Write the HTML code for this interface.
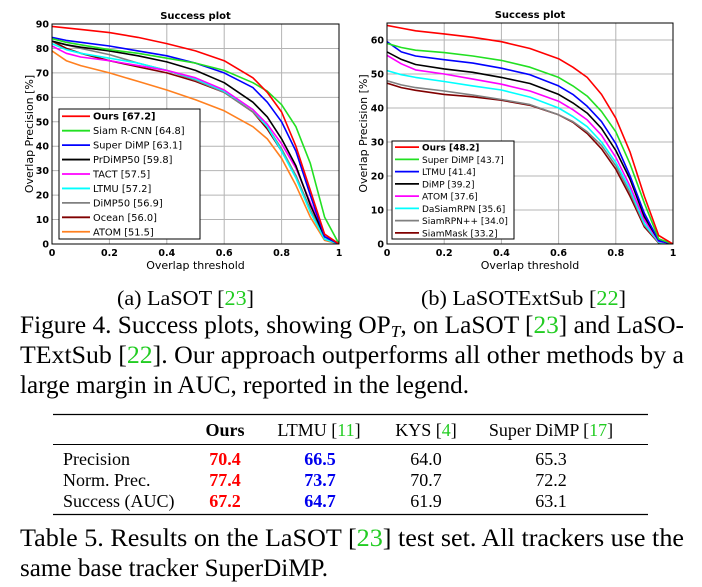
<!DOCTYPE html>
<html><head><meta charset="utf-8"><style>
html,body{margin:0;padding:0;background:#fff;width:702px;height:587px;overflow:hidden}
svg{display:block}
.pl{font-family:"DejaVu Sans","Liberation Sans",sans-serif}
.tm{font-family:"Liberation Serif",serif}
</style></head><body>
<svg id="fig" width="702" height="587" viewBox="0 0 702 587">
<g id="left"></g>
<g id="right"></g>
<g class="tm">
<text x="117" y="305" font-size="21" textLength="137" lengthAdjust="spacingAndGlyphs">(a) LaSOT [<tspan fill="#22cc22">23</tspan>]</text>
<text x="421" y="305" font-size="21" textLength="205" lengthAdjust="spacingAndGlyphs">(b) LaSOTExtSub [<tspan fill="#22cc22">22</tspan>]</text>
<text x="20" y="333" font-size="25" textLength="664" lengthAdjust="spacingAndGlyphs">Figure 4. Success plots, showing OP<tspan font-style="italic" font-size="17" dy="4">T</tspan><tspan dy="-4">, on LaSOT [</tspan><tspan fill="#22cc22">23</tspan>] and LaSO-</text>
<text x="20" y="363" font-size="25" textLength="664" lengthAdjust="spacingAndGlyphs">TExtSub [<tspan fill="#22cc22">22</tspan>].  Our approach outperforms all other methods by a</text>
<text x="20" y="393" font-size="25" textLength="449" lengthAdjust="spacingAndGlyphs">large margin in AUC, reported in the legend.</text>
</g>
<g class="tm">
<line x1="53" y1="414.5" x2="648" y2="414.5" stroke="#000" stroke-width="1.2"/>
<line x1="53" y1="444.5" x2="648" y2="444.5" stroke="#000" stroke-width="1"/>
<line x1="53" y1="514.5" x2="648" y2="514.5" stroke="#000" stroke-width="1.2"/>
<g font-size="18" text-anchor="middle">
<text x="225" y="436" font-weight="bold">Ours</text>
<text x="319" y="436">LTMU [<tspan fill="#22cc22">11</tspan>]</text>
<text x="426" y="436">KYS [<tspan fill="#22cc22">4</tspan>]</text>
<text x="551" y="436">Super DiMP [<tspan fill="#22cc22">17</tspan>]</text>
</g>
<g font-size="18">
<text x="63" y="465">Precision</text>
<text x="63" y="486">Norm. Prec.</text>
<text x="63" y="507">Success (AUC)</text>
</g>
<g font-size="18" text-anchor="middle">
<text x="225" y="465" fill="#ff0000" font-weight="bold">70.4</text><text x="320" y="465" fill="#0000ee" font-weight="bold">66.5</text><text x="426" y="465">64.0</text><text x="551" y="465">65.3</text>
<text x="225" y="486" fill="#ff0000" font-weight="bold">77.4</text><text x="320" y="486" fill="#0000ee" font-weight="bold">73.7</text><text x="426" y="486">70.7</text><text x="551" y="486">72.2</text>
<text x="225" y="507" fill="#ff0000" font-weight="bold">67.2</text><text x="320" y="507" fill="#0000ee" font-weight="bold">64.7</text><text x="426" y="507">61.9</text><text x="551" y="507">63.1</text>
</g>
<text x="20" y="546" font-size="25" textLength="664" lengthAdjust="spacingAndGlyphs">Table 5. Results on the LaSOT [<tspan fill="#22cc22">23</tspan>] test set.  All trackers use the</text>
<text x="20" y="576" font-size="25" textLength="308" lengthAdjust="spacingAndGlyphs">same base tracker SuperDiMP.</text>
</g>
</svg>
<script>
const leftThresholds=[0,.05,.1,.2,.3,.4,.5,.6,.7,.75,.8,.85,.9,.95,1];
const leftNames=["Ours [67.2]","Siam R-CNN [64.8]","Super DiMP [63.1]","PrDiMP50 [59.8]","TACT [57.5]","LTMU [57.2]","DiMP50 [56.9]","Ocean [56.0]","ATOM [51.5]"];
const leftOurs=[89,88.4,87.8,86.5,84.5,82,79,75,68,62,54,40,22,4,0];
const leftSiamRCNN=[84,82.5,81.5,79.5,78,76,74,71,66,62.5,57,48,33,11,0];
const leftSuperDiMP=[84.5,83.3,82.5,81,79,77,74,70,64,58,50,38,20,3,0];
const leftPrDiMP=[83,81.5,80.5,79,77,74.5,71,66,58,52,43,32,16,3,0];
const leftTACT=[81,78,76.5,75,73,71,68,63,55,49,41,31,17,4,0];
const leftLTMU=[82,79.5,78,76,74,71,67.5,62.5,55,48,38,27,13,2,0];
const leftDiMP50=[83,81.5,80,77.5,74,71,67,62,54,48,39,28,14,2,0];
const leftOcean=[83,80,78,75,72.5,70,66.5,62,54,47,38,28,14,2,0];
const leftATOM=[79,75,73,70,66.5,63,59,54.5,48,43,35,24,11,1.5,0];
const leftYTicks=[0,10,20,30,40,50,60,70,80,90];

const rightThresholds=[0,.05,.1,.2,.3,.4,.5,.6,.65,.7,.75,.8,.85,.9,.95,1];
const rightNames=["Ours [48.2]","Super DiMP [43.7]","LTMU [41.4]","DiMP [39.2]","ATOM [37.6]","DaSiamRPN [35.6]","SiamRPN++ [34.0]","SiamMask [33.2]"];
const rightOurs=[64.3,63.5,62.7,61.8,60.8,59.5,57.5,54.5,52,49,44,37,27,14,2.5,0];
const rightSuperDiMP=[59,57.8,57,56.3,55.3,54,52,49,46.5,43.5,39,33,23.5,12,1.5,0];
const rightLTMU=[59.5,56.5,55.3,54.2,53.2,51.7,49.8,46.5,44,40.5,36,29.5,20,9,1,0];
const rightDiMP=[56.5,54.3,52.8,51.5,50.5,49,47.2,44,41.5,38.5,34,27.5,19,8,1,0];
const rightATOM=[55.5,53,51.2,50,48.5,47,45,42,39.5,36.5,32,25.5,17,7,0.8,0];
const rightDaSiam=[51,49.8,49,47.8,46.5,45.3,43.2,40,37.5,34.5,30,24,16,6,0.5,0];
const rightSiamRPN=[48,46.8,46,45,43.8,42.5,41,38,36,33,29,23,15,5.5,0.5,0];
const rightSiamMask=[47.3,46,45.2,44,43.3,42.3,40.8,38,35.8,32.5,28,22,14,5,0.3,0];
const rightYTicks=[0,10,20,30,40,50,60];
const xTicks=[0,0.2,0.4,0.6,0.8,1];
const xTickLabels=["0","0.2","0.4","0.6","0.8","1"];

const NS="http://www.w3.org/2000/svg";
function mk(p,tag,attrs){const e=document.createElementNS(NS,tag);for(const k in attrs)e.setAttribute(k,attrs[k]);p.appendChild(e);return e;}

function plot(g,cfg){
  g.setAttribute('class','pl');
  const {x0,x1,y0,y1,ymax}=cfg;
  const sx=t=>x0+t*(x1-x0), sy=v=>y1-v/ymax*(y1-y0);
  const grid=mk(g,'g',{});
  
  
  xTicks.forEach((t,i)=>{
    if(t>0&&t<1)mk(grid,'line',{x1:sx(t),x2:sx(t),y1:y0,y2:y1,stroke:'#b4b4b4','stroke-width':1});
    const tl=mk(g,'text',{x:sx(t),y:y1+12,'font-size':9.5,'text-anchor':'middle','font-weight':'bold'});
    tl.textContent=xTickLabels[i];
    
    
  });
  cfg.yticks.forEach(v=>{
    if(v>0&&v<ymax)mk(grid,'line',{x1:x0,x2:x1,y1:sy(v),y2:sy(v),stroke:'#b4b4b4','stroke-width':1});
    const tl=mk(g,'text',{x:x0-3,y:sy(v)+3.5,'font-size':9.5,'text-anchor':'end','font-weight':'bold'});
    tl.textContent=String(v);
    
    
  });
  const cp='clip'+cfg.id;
  const cl=mk(mk(g,'defs',{}),'clipPath',{id:cp});
  mk(cl,'rect',{x:x0,y:y0,width:x1-x0,height:y1-y0});
  const lines=mk(g,'g',{'clip-path':'url(#'+cp+')'});
  for(let i=cfg.series.length-1;i>=0;i--){
    const s=cfg.series[i];
    const d=s.vals.map((v,j)=>(j?'L':'M')+sx(cfg.t[j]).toFixed(1)+','+sy(v).toFixed(1)).join('');
    const p=mk(lines,'path',{d:d,fill:'none',stroke:s.c,'stroke-width':1.6,'stroke-linejoin':'round'});
    
    
  }
  const fr=mk(g,'rect',{x:x0,y:y0,width:x1-x0,height:y1-y0,fill:'none',stroke:'#000','stroke-width':1});
  
  
  const ti=mk(g,'text',{x:(x0+x1)/2,y:y0-5,'font-size':10,'font-weight':'bold','text-anchor':'middle'});
  ti.textContent='Success plot';
  
  
  const xl=mk(g,'text',{x:(x0+x1)/2,y:y1+25,'font-size':11,'text-anchor':'middle'});
  xl.textContent='Overlap threshold';
  
  
  const yl=mk(g,'text',{x:0,y:0,'font-size':11,'text-anchor':'middle',transform:`translate(${cfg.ylx},${(y0+y1)/2}) rotate(-90)`});
  yl.textContent='Overlap Precision [%]';
  
  
  const L=cfg.leg;
  const lg=mk(g,'g',{});
  
  
  mk(lg,'rect',{x:L.x,y:L.y,width:L.w,height:L.h,fill:'#fff',stroke:'#000','stroke-width':1});
  const rh=L.h/cfg.series.length;
  cfg.series.forEach((s,i)=>{
    const cy=L.y+rh*(i+0.5);
    const e=mk(lg,'g',{});
    
    
    mk(e,'line',{x1:L.x+3,x2:L.x+3+L.sl,y1:cy,y2:cy,stroke:s.c,'stroke-width':1.8});
    const t=mk(e,'text',{x:L.x+L.sl+6,y:cy+3.5,'font-size':L.fs,'font-weight':i===0?'bold':'normal'});
    t.textContent=cfg.names[i];
  });
}
plot(document.getElementById('left'),{id:'L',x0:52,x1:339,y0:24,y1:244,ymax:90,yticks:leftYTicks,ylx:33,t:leftThresholds,names:leftNames,
  leg:{x:59,y:109,w:141,h:130,sl:28,fs:9.8},
  series:[{c:'#ff0000',vals:leftOurs},{c:'#22e022',vals:leftSiamRCNN},{c:'#0000ff',vals:leftSuperDiMP},{c:'#000000',vals:leftPrDiMP},{c:'#ff00ff',vals:leftTACT},{c:'#00ffff',vals:leftLTMU},{c:'#808080',vals:leftDiMP50},{c:'#800000',vals:leftOcean},{c:'#ff8020',vals:leftATOM}]});
plot(document.getElementById('right'),{id:'R',x0:387,x1:673,y0:23,y1:244,ymax:65,yticks:rightYTicks,ylx:367,t:rightThresholds,names:rightNames,
  leg:{x:392,y:141,w:122,h:98,sl:24,fs:9},
  series:[{c:'#ff0000',vals:rightOurs},{c:'#22e022',vals:rightSuperDiMP},{c:'#0000ff',vals:rightLTMU},{c:'#000000',vals:rightDiMP},{c:'#ff00ff',vals:rightATOM},{c:'#00ffff',vals:rightDaSiam},{c:'#808080',vals:rightSiamRPN},{c:'#800000',vals:rightSiamMask}]});
</script>
</body></html>
